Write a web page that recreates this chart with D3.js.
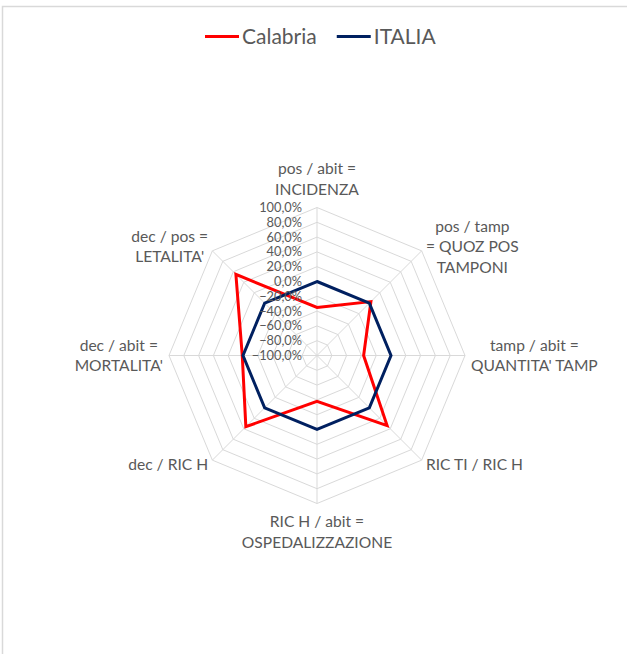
<!DOCTYPE html>
<html>
<head>
<meta charset="utf-8">
<script src="https://cdn.jsdelivr.net/npm/d3@7"></script>
<style>
  html, body { margin: 0; padding: 0; background: #fff; overflow: hidden; }
  svg { display: block; font-family: Lato, "Open Sans", sans-serif; }
</style>
</head>
<body>
<svg id="chart" width="627" height="654"></svg>
<script>
// ---- data ----
const categories = [
  ["pos / abit =", "INCIDENZA"],
  ["pos / tamp", "= QUOZ POS", "TAMPONI"],
  ["tamp / abit =", "QUANTITA' TAMP"],
  ["RIC TI / RIC H"],
  ["RIC H / abit =", "OSPEDALIZZAZIONE"],
  ["dec  / RIC H"],
  ["dec / abit =", "MORTALITA'"],
  ["dec / pos =", "LETALITA'"]
];
const seriesNames = ["Calabria", "ITALIA"];
const calabria = [-35, 3, -37, 34, -38, 36, 1, 55];
const italia   = [0, 0, 0, 0, 0, 0, 0, 0];
const tickValues = [-100, -80, -60, -40, -20, 0, 20, 40, 60, 80, 100];
const colors = ["#ff0000", "#002060"];

// ---- layout ----
const svg = d3.select("#chart");
const cx = 317, cy = 355.5, R = 148;
const gray = "#595959", gridColor = "#d9d9d9";

// border
svg.append("rect").attr("x", 2.5).attr("y", 6.5).attr("width", 700).attr("height", 700)
  .attr("fill", "none").attr("stroke", gridColor).attr("stroke-width", 1.5);

const r = d3.scaleLinear().domain([-100, 100]).range([0, R]);
const n = categories.length;
const angle = i => i * 2 * Math.PI / n;
const pt = (i, v) => [cx + r(v) * Math.sin(angle(i)), cy - r(v) * Math.cos(angle(i))];

const g = svg.append("g");

// grid rings
tickValues.slice(1).forEach(t => {
  const pts = d3.range(n).map(i => pt(i, t));
  g.append("path")
    .attr("d", d3.line()(pts) + "Z")
    .attr("fill", "none").attr("stroke", gridColor).attr("stroke-width", 1);
});
// spokes
d3.range(n).forEach(i => {
  const [x, y] = pt(i, 100);
  g.append("line").attr("x1", cx).attr("y1", cy).attr("x2", x).attr("y2", y)
    .attr("stroke", gridColor).attr("stroke-width", 1);
});

// series
const radial = d3.lineRadial()
  .angle((d, i) => angle(i))
  .radius(d => r(d))
  .curve(d3.curveLinearClosed);
[calabria, italia].forEach((vals, k) => {
  g.append("path")
    .attr("transform", `translate(${cx},${cy})`)
    .attr("d", radial(vals))
    .attr("fill", "none")
    .attr("stroke", colors[k])
    .attr("stroke-width", 3)
    .attr("stroke-linejoin", "miter");
});

// tick labels
tickValues.forEach(t => {
  g.append("text")
    .attr("x", cx - 15)
    .attr("y", cy - r(t))
    .attr("dy", "0.35em")
    .attr("text-anchor", "end")
    .attr("fill", gray)
    .attr("font-size", 12.8)
    .text(d3.format(".1f")(t).replace(".", ",") + "%");
});

// axis labels
const lh = 20.5, fs = 15.6, gap = 6;
categories.forEach((lines, i) => {
  const a = angle(i);
  const dx = Math.sin(a), dy = -Math.cos(a);
  const ax = cx + (R + gap) * dx, ay = cy + (R + gap) * dy;
  const t = g.append("text").attr("fill", gray).attr("font-size", fs).attr("text-anchor", "middle");
  const tsp = lines.map(l => t.append("tspan").text(l));
  const w = d3.max(tsp, s => s.node().getComputedTextLength());
  const h = lines.length * lh;
  let bx = ax, by = ay;
  if (Math.abs(dx) > 0.1) bx = ax + Math.sign(dx) * w / 2;
  if (Math.abs(dx) < 0.1) by = ay + Math.sign(dy) * (h / 2 + 2);
  tsp.forEach((s, j) => {
    s.attr("x", bx).attr("y", by + (j - (lines.length - 1) / 2) * lh).attr("dy", "0.35em");
  });
});

// legend
const legend = svg.append("g").attr("font-size", 21).attr("fill", gray);
let lx = 205;
const ly = 36.5;
seriesNames.forEach((name, k) => {
  legend.append("line").attr("x1", lx).attr("x2", lx + 34).attr("y1", ly).attr("y2", ly)
    .attr("stroke", colors[k]).attr("stroke-width", 3);
  const tx = legend.append("text").attr("x", lx + 37).attr("y", ly).attr("dy", "0.35em").text(name);
  lx = lx + 37 + tx.node().getComputedTextLength() + 20;
});
</script>
</body>
</html>
